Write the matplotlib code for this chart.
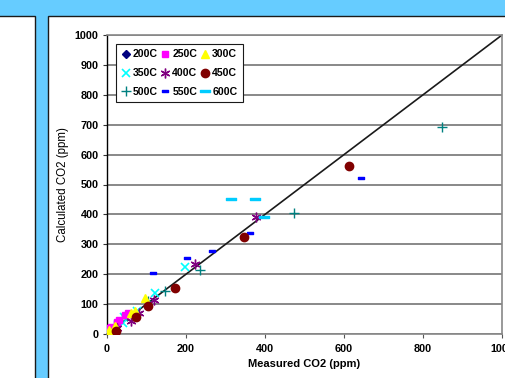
import matplotlib.pyplot as plt
from matplotlib.patches import Rectangle
from matplotlib.path import Path

plt.rcParams['font.family'] = ['Liberation Sans', 'DejaVu Sans']

# Measured vs calculated CO2 (ppm) by temperature
x_200 = [2, 6]
y_200 = [4, 10]
x_250 = [0, 3, 10, 25, 30, 46, 54]
y_250 = [2, 20, 25, 40, 46, 65, 70]
x_300 = [0, 6, 20, 62, 71, 96]
y_300 = [0, 12, 28, 70, 76, 120]
x_350 = [5, 41, 42, 77, 121, 197]
y_350 = [5, 36, 58, 78, 138, 224]
x_400 = [16, 25, 60, 82, 119, 224, 376]
y_400 = [3, 20, 42, 70, 115, 234, 390]
x_450 = [23, 73, 105, 172, 348, 613]
y_450 = [9, 58, 94, 155, 323, 563]
x_500 = [18, 37, 51, 103, 147, 236, 474, 849]
y_500 = [30, 54, 60, 110, 145, 214, 405, 693]
x_550 = [116, 203, 265, 362, 643]
y_550 = [203, 253, 279, 337, 523]
x_600 = [314, 374, 398]
y_600 = [451, 451, 392]

bg = '#66CCFF'
fig = plt.figure(figsize=(5.06, 3.78), dpi=100, facecolor=bg)
W, H = 506, 378

def px_rect(x0, y0, x1, y1, **kw):
    # rectangle given in pixel coordinates from the top left
    fig.patches.append(Rectangle((x0 / W, 1 - y1 / H), (x1 - x0) / W, (y1 - y0) / H,
                                 transform=fig.transFigure, figure=fig, zorder=-10, **kw))

px_rect(-5, 16, 35, 400, facecolor='white', edgecolor='#1a1a1a', linewidth=1.0)
px_rect(48, 16, 520, 400, facecolor='white', edgecolor='#1a1a1a', linewidth=1.0)

ax = fig.add_axes([107 / W, 1 - 334 / H, 395 / W, 299 / H])
ax.set_facecolor('white')
ax.set_zorder(5)

short_dash = Path([(-1, -0.45), (1, -0.45), (1, 0.45), (-1, 0.45), (-1, -0.45)],
                  [Path.MOVETO, Path.LINETO, Path.LINETO, Path.LINETO, Path.CLOSEPOLY])
long_dash = Path([(-1, -0.22), (1, -0.22), (1, 0.22), (-1, 0.22), (-1, -0.22)],
                 [Path.MOVETO, Path.LINETO, Path.LINETO, Path.LINETO, Path.CLOSEPOLY])

ax.plot([0, 1000], [0, 1000], color='#1a1a1a', linewidth=1.2, zorder=2)

series = [
    (x_200, y_200, '200C', dict(marker='D', color='#000080', markersize=4.5)),
    (x_350, y_350, '350C', dict(marker='x', color='#00FFFF', markersize=6, markeredgewidth=1.2)),
    (x_500, y_500, '500C', dict(marker='+', color='#008080', markersize=6.5, markeredgewidth=1.0)),
    (x_250, y_250, '250C', dict(marker='s', color='#FF00FF', markersize=5)),
    (x_400, y_400, '400C', dict(marker=(6, 2, 0), color='#800080', markersize=7, markeredgewidth=1.0)),
    (x_550, y_550, '550C', dict(marker=short_dash, color='#0000FF', markersize=4.5)),
    (x_300, y_300, '300C', dict(marker='^', color='#FFFF00', markersize=5.5)),
    (x_450, y_450, '450C', dict(marker='o', color='#800000', markersize=6)),
    (x_600, y_600, '600C', dict(marker=long_dash, color='#00CCFF', markersize=6.5)),
]
for xs, ys, lab, st in series:
    ax.plot(xs, ys, linestyle='none', label=lab, zorder=3, **st)

ax.set_xlim(0, 1000)
ax.set_ylim(0, 1000)
ax.set_xticks(range(0, 1001, 200))
ax.set_yticks(range(0, 1001, 100))
ax.grid(axis='y', color='#888888', linewidth=1.4, zorder=1)
ax.set_axisbelow(True)
for s in ['top', 'right', 'bottom']:
    ax.spines[s].set_color('#888888')
    ax.spines[s].set_linewidth(1.2)
ax.spines['left'].set_color('black')
ax.spines['left'].set_linewidth(1.0)
ax.tick_params(axis='y', length=3, width=0.8, color='#333333', pad=3)
ax.tick_params(axis='x', length=3, width=0.8, color='#555555', pad=4)
for lbl in ax.get_xticklabels() + ax.get_yticklabels():
    lbl.set_fontsize(7.8)
    lbl.set_fontweight('bold')
ax.set_xlabel('Measured CO2 (ppm)', fontsize=8, fontweight='bold', labelpad=4)
ax.set_ylabel('Calculated CO2 (ppm)', fontsize=8.3, labelpad=4)

leg = ax.legend(ncol=3, loc='upper left', bbox_to_anchor=(0.023, 0.97), borderaxespad=0,
                fancybox=False, framealpha=1, edgecolor='#1a1a1a',
                prop={'size': 7.6, 'weight': 'bold'}, handlelength=0.8, handletextpad=0.25,
                columnspacing=0.35, labelspacing=0.85, borderpad=0.5)
leg.get_frame().set_linewidth(0.8)

fig.savefig('out.png', dpi=100, facecolor=bg)
